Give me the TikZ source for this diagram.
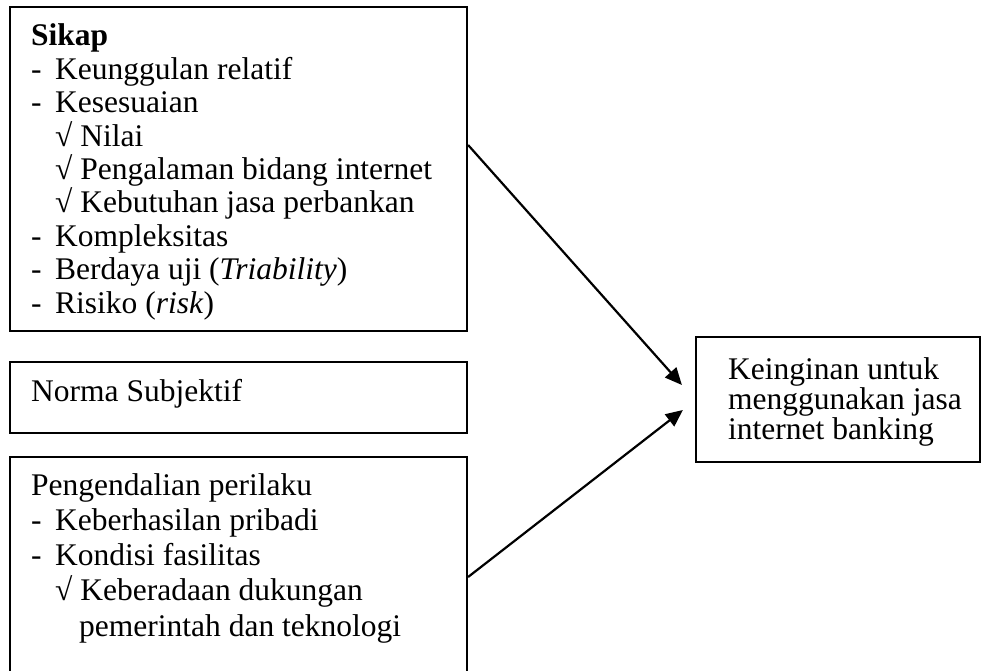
\documentclass[tikz,border=0pt]{standalone}
\usepackage{fontspec}
\setmainfont{Liberation Serif}
\usetikzlibrary{arrows.meta}
\begin{document}
\begin{tikzpicture}[x=1pt,y=1pt,
  box/.style={draw=black,line width=2.2pt,rectangle,inner sep=0pt},
  txt/.style={anchor=base west,inner sep=0pt,font=\fontsize{31.5}{33}\selectfont},
  conn/.style={line width=2.2pt,-{Triangle[length=17pt,width=15pt]}}]
\useasboundingbox (0,0) rectangle (983,-671);
\clip (0,0) rectangle (983,-671);
% boxes
\node[box,minimum width=457pt,minimum height=324pt] (sikap) at (238.5,-169) {};
\node[box,minimum width=457pt,minimum height=71pt] (norma) at (238.5,-397.5) {};
\node[box,minimum width=457pt,minimum height=260pt] (kendali) at (238.5,-587) {};
\node[box,minimum width=284pt,minimum height=125pt] (kein) at (838,-399.5) {};
% texts box 1
\node[txt] (t1) at (31,-46) {\textbf{Sikap}};
\node[txt] (d2) at (31,-79.4) {-};
\node[txt] (t2) at (55,-79.4) {Keunggulan relatif};
\node[txt] (d3) at (31,-112.8) {-};
\node[txt] (t3) at (55,-112.8) {Kesesuaian};
\node[txt] (t4) at (55,-146.2) {√ Nilai};
\node[txt] (t5) at (55,-179.6) {√ Pengalaman bidang internet};
\node[txt] (t6) at (55,-213) {√ Kebutuhan jasa perbankan};
\node[txt] (d7) at (31,-246.4) {-};
\node[txt] (t7) at (55,-246.4) {Kompleksitas};
\node[txt] (d8) at (31,-279.8) {-};
\node[txt] (t8) at (55,-279.8) {Berdaya uji (\textit{Triability})};
\node[txt] (d9) at (31,-313.2) {-};
\node[txt] (t9) at (55,-313.2) {Risiko (\textit{risk})};
% box 2
\node[txt] (n1) at (31,-401) {Norma Subjektif};
% box 3
\node[txt] (p1) at (31,-495) {Pengendalian perilaku};
\node[txt] (pd2) at (31,-530.3) {-};
\node[txt] (p2) at (55,-530.3) {Keberhasilan pribadi};
\node[txt] (pd3) at (31,-565.6) {-};
\node[txt] (p3) at (55,-565.6) {Kondisi fasilitas};
\node[txt] (p4) at (55,-600.9) {√ Keberadaan dukungan};
\node[txt] (p5) at (79,-636.2) {pemerintah dan teknologi};
% box 4
\node[txt,align=left,font=\fontsize{31.5}{28}\selectfont] (k1) at (728,-439) {Keinginan untuk\\menggunakan jasa\\internet banking};
% connectors
\coordinate (s1) at (sikap.north east |- 0,-145);
\coordinate (s2) at (kendali.north east |- 0,-577);
\coordinate (e1) at ([xshift=-13pt,yshift=14.5pt]kein.west);
\coordinate (e2) at ([xshift=-12pt,yshift=-10.5pt]kein.west);
\draw[conn] (s1) -- (e1);
\draw[conn] (s2) -- (e2);
\end{tikzpicture}
\end{document}
